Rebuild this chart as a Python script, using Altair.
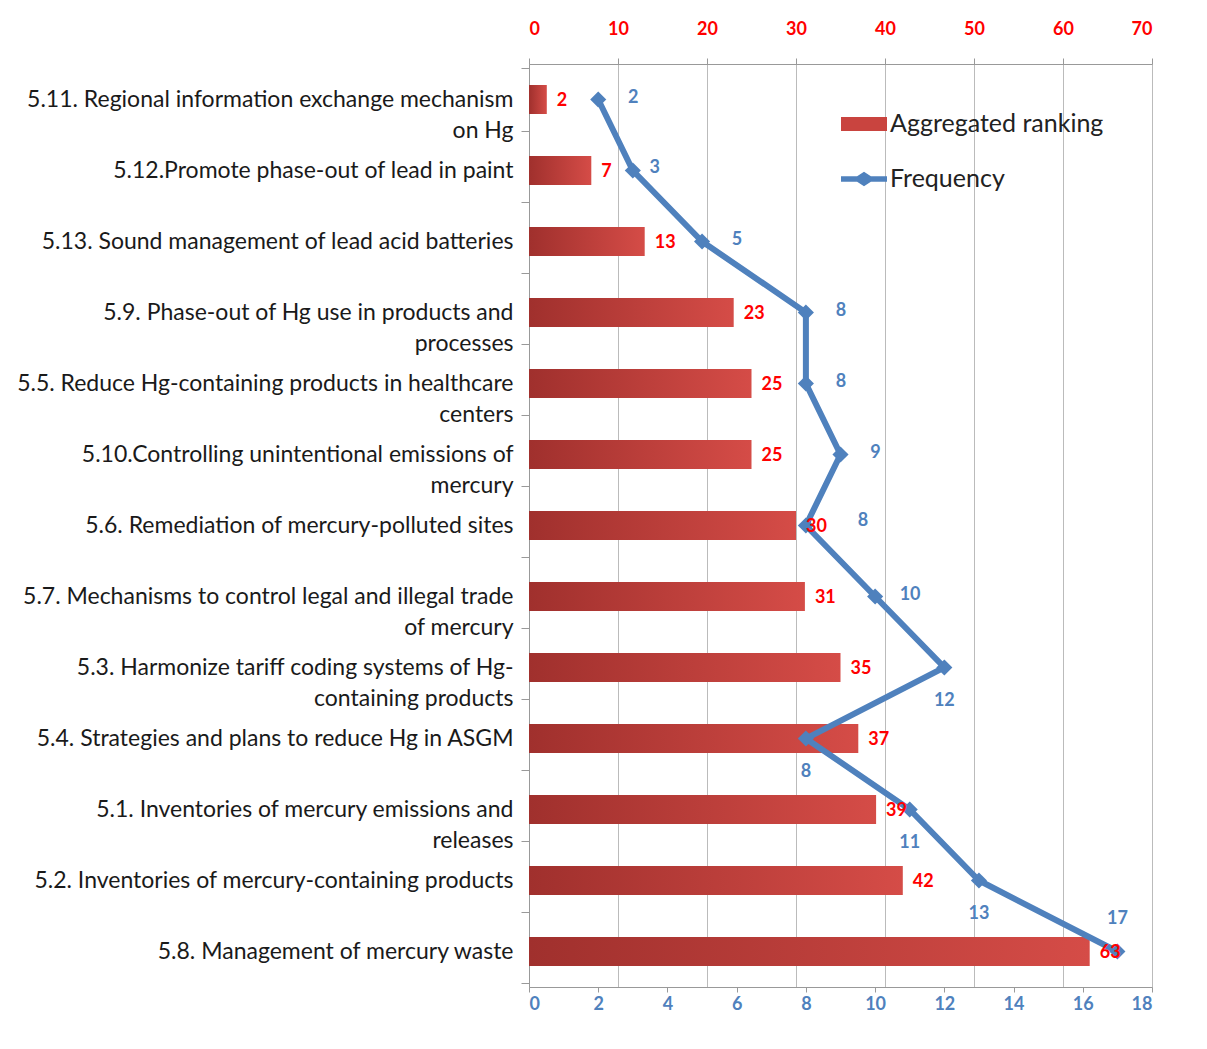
import altair as alt
import pandas as pd

categories = [
    "5.11. Regional information exchange mechanism|on Hg",
    "5.12.Promote phase-out of lead in paint",
    "5.13. Sound management of lead acid batteries",
    "5.9. Phase-out of Hg use in products and|processes",
    "5.5. Reduce Hg-containing products in healthcare|centers",
    "5.10.Controlling unintentional emissions of|mercury",
    "5.6. Remediation of mercury-polluted sites",
    "5.7. Mechanisms to control legal and illegal trade|of mercury",
    "5.3. Harmonize tariff coding systems of Hg-|containing products",
    "5.4. Strategies and plans to reduce Hg in ASGM",
    "5.1. Inventories of mercury emissions and|releases",
    "5.2. Inventories of mercury-containing products",
    "5.8. Management of mercury waste",
]
ranking = [2, 7, 13, 23, 25, 25, 30, 31, 35, 37, 39, 42, 63]
frequency = [2, 3, 5, 8, 8, 9, 8, 10, 12, 8, 11, 13, 17]
series_names = ["Aggregated ranking", "Frequency"]
rank_ticks = [0, 10, 20, 30, 40, 50, 60, 70]
freq_ticks = [0, 2, 4, 6, 8, 10, 12, 14, 16, 18]

df = pd.DataFrame({
    "cat": categories,
    "ranking": ranking,
    "frequency": frequency,
    "order": list(range(len(categories))),
})
legend_df = pd.DataFrame({"series": series_names})

FONT = "Lato"
RED = "#ff0000"
BLUE = "#4f81bd"

y_enc = alt.Y(
    "cat:N",
    sort=categories,
    title=None,
    axis=alt.Axis(
        labelExpr="split(datum.label, '|')",
        labelFont=FONT,
        labelFontSize=23,
        labelColor="#1a1a1a",
        labelLineHeight=31,
        labelLimit=0,
        labelPadding=8,
        tickBand="extent",
        tickSize=8,
        tickColor="#999999",
        domainColor="#999999",
        grid=False,
    ),
)
y_plain = alt.Y("cat:N", sort=categories, title=None)

rank_scale = alt.Scale(domain=[0, 70], nice=False)
freq_scale = alt.Scale(domain=[0, 18], nice=False)

bars = alt.Chart(df).mark_bar(
    size=29,
    color=alt.Gradient(
        gradient="linear",
        stops=[
            alt.GradientStop(color="#a0302d", offset=0),
            alt.GradientStop(color="#d54c47", offset=1),
        ],
        x1=0, x2=1, y1=0, y2=0,
    ),
).encode(
    x=alt.X(
        "ranking:Q",
        scale=rank_scale,
        title=None,
        axis=alt.Axis(
            orient="top",
            values=rank_ticks,
            labelColor=RED,
            labelFont=FONT,
            labelFontWeight="bold",
            labelFontSize=18,
            labelPadding=20,
            tickSize=6,
            tickColor="#999999",
            domainColor="#999999",
            grid=True,
            gridColor="#bbbbbb",
        ),
    ),
    y=y_enc,
)

bar_labels = alt.Chart(df).mark_text(
    align="left", baseline="middle", dx=10, dy=1,
    color=RED, font=FONT, fontWeight="bold", fontSize=18,
).encode(
    x=alt.X("ranking:Q", scale=rank_scale, title=None, axis=None),
    y=y_plain,
    text="ranking:Q",
)

line = alt.Chart(df).mark_line(color=BLUE, strokeWidth=6).encode(
    x=alt.X(
        "frequency:Q",
        scale=freq_scale,
        title=None,
        axis=alt.Axis(
            orient="bottom",
            values=freq_ticks,
            labelColor=BLUE,
            labelFont=FONT,
            labelFontWeight="bold",
            labelFontSize=18,
            labelPadding=3,
            tickSize=5,
            tickColor="#999999",
            domainColor="#999999",
            grid=False,
        ),
    ),
    y=y_plain,
    order="order:Q",
)

points = alt.Chart(df).mark_point(
    shape="diamond", filled=True, size=260, color=BLUE, opacity=1
).encode(
    x=alt.X("frequency:Q", scale=freq_scale, title=None),
    y=y_plain,
)

def freq_text(flt, dx, dy, align="center"):
    return alt.Chart(df).transform_filter(flt).mark_text(
        align=align, baseline="middle", dx=dx, dy=dy,
        color=BLUE, font=FONT, fontWeight="bold", fontSize=18,
    ).encode(
        x=alt.X("frequency:Q", scale=freq_scale, title=None),
        y=y_plain,
        text="frequency:Q",
    )

lab_right = freq_text("datum.order < 8 && datum.order != 6 && datum.order != 1", 35, -2)
lab_near = freq_text("datum.order == 1", 22, -3)
lab_far = freq_text("datum.order == 6", 57, -5)
lab_below = freq_text("datum.order >= 8 && datum.order < 12", 0, 33)
lab_above = freq_text("datum.order == 12", 0, -33)

freq_layer = alt.layer(line, points, lab_right, lab_near, lab_far, lab_below, lab_above)

rect_path = "M-1,-0.3L1,-0.3L1,0.3L-1,0.3Z"
line_path = ("M-1,-0.12L-0.3,-0.12L0,-0.32L0.3,-0.12L1,-0.12L1,0.12L0.3,0.12"
             "L0,0.32L-0.3,0.12L-1,0.12Z")

legend_props = dict(
    title=None,
    orient="none",
    legendX=312,
    legendY=37,
    symbolSize=2116,
    symbolStrokeWidth=0,
    symbolOpacity=1,
    labelFont=FONT,
    labelFontSize=25,
    labelColor="#222222",
    labelLimit=0,
    labelOffset=3,
    rowPadding=19,
)

legend_layer = alt.Chart(legend_df).mark_point(filled=True, opacity=0).encode(
    color=alt.Color(
        "series:N",
        scale=alt.Scale(domain=series_names, range=["#c9443f", BLUE]),
        legend=alt.Legend(**legend_props),
    ),
    shape=alt.Shape(
        "series:N",
        scale=alt.Scale(domain=series_names, range=[rect_path, line_path]),
        legend=alt.Legend(**legend_props),
    ),
)

chart = alt.layer(bars, freq_layer, bar_labels, legend_layer).resolve_scale(
    x="independent"
).properties(
    width=623,
    height=923,
    padding={"left": 8, "top": 12, "right": 20, "bottom": 10},
).configure_view(strokeWidth=0).configure(background="white")

chart.save("out.html", embed_options={"renderer": "svg", "actions": False})
